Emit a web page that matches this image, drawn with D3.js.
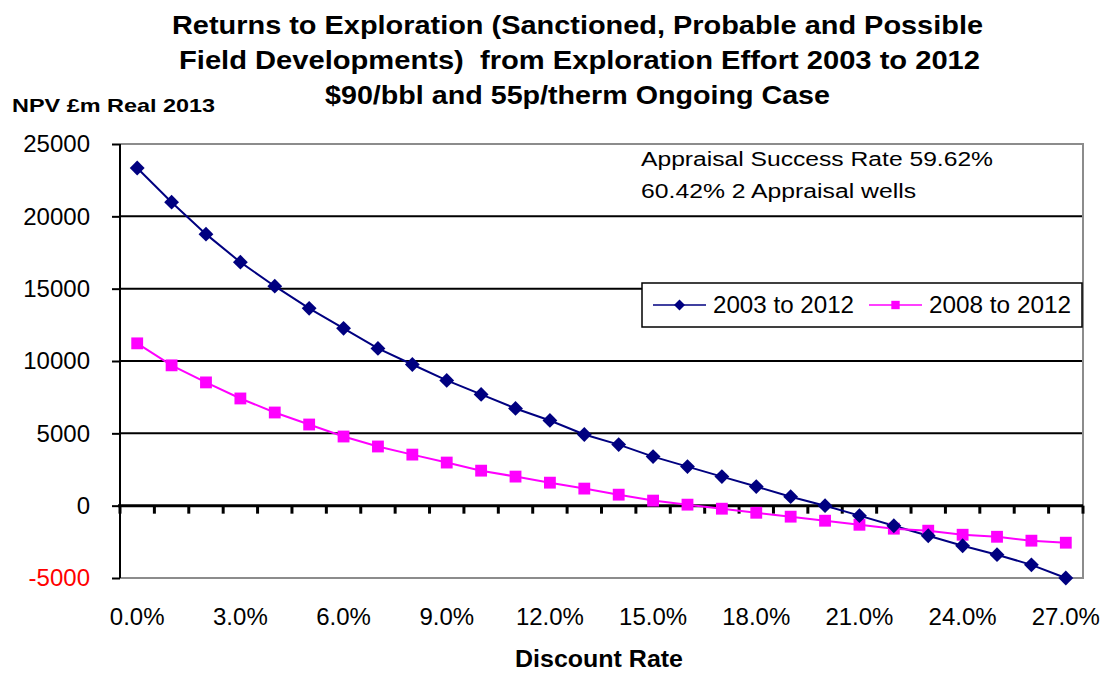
<!DOCTYPE html>
<html>
<head>
<meta charset="utf-8">
<script src="https://cdn.jsdelivr.net/npm/d3@7"></script>
<style>
  html, body { margin: 0; padding: 0; background: #fff; }
  svg { display: block; font-family: "Liberation Sans", Arial, sans-serif; }
  text { white-space: pre; }
</style>
</head>
<body>
<svg id="chart" width="1104" height="673"></svg>
<script>
// ---- data ----
const categories = ["0.0%","1.0%","2.0%","3.0%","4.0%","5.0%","6.0%","7.0%","8.0%","9.0%",
  "10.0%","11.0%","12.0%","13.0%","14.0%","15.0%","16.0%","17.0%","18.0%","19.0%",
  "20.0%","21.0%","22.0%","23.0%","24.0%","25.0%","26.0%","27.0%"];
const series2003to2012 = [23340, 20980, 18770, 16830, 15170, 13640, 12260, 10870, 9760, 8660,
  7690, 6720, 5890, 4920, 4220, 3390, 2700, 2010, 1320, 620,
  0, -690, -1390, -2080, -2770, -3390, -4090, -5000];
const series2008to2012 = [11220, 9700, 8520, 7410, 6440, 5610, 4780, 4090, 3530, 2980,
  2420, 2010, 1590, 1180, 760, 350, 70, -210, -490, -760,
  -1040, -1320, -1590, -1730, -2010, -2150, -2420, -2560];
const seriesNames = ["2003 to 2012", "2008 to 2012"];
const yTicks = [-5000, 0, 5000, 10000, 15000, 20000, 25000];
const yTickLabels = ["-5000", "0", "5000", "10000", "15000", "20000", "25000"];
const xTickLabels = ["0.0%","3.0%","6.0%","9.0%","12.0%","15.0%","18.0%","21.0%","24.0%","27.0%"];
const titleLines = [
  "Returns to Exploration (Sanctioned, Probable and Possible",
  "Field Developments)  from Exploration Effort 2003 to 2012",
  "$90/bbl and 55p/therm Ongoing Case"
];
const annotationLines = ["Appraisal Success Rate 59.62%", "60.42% 2 Appraisal wells"];
const yAxisTitle = "NPV £m Real 2013";
const xAxisTitle = "Discount Rate";

// ---- layout ----
const svg = d3.select("#chart");
const L = 120, R = 1083, T = 144, B = 578;
const x = d3.scaleBand().domain(categories).range([L, R]).padding(0);
const y = d3.scaleLinear().domain([-5000, 25000]).range([B, T]);
const cx = c => x(c) + x.bandwidth() / 2;

svg.append("rect").attr("width", 1104).attr("height", 673).attr("fill", "#fff");

// title
const titleX = [172, 179, 325], titleW = [811, 801, 505];
titleLines.forEach((t, i) => {
  svg.append("text")
    .attr("x", titleX[i]).attr("y", 34 + i * 35)
    .attr("font-size", 25).attr("font-weight", "bold").attr("fill", "#000")
    .attr("textLength", titleW[i]).attr("lengthAdjust", "spacingAndGlyphs")
    .text(t);
});

// y axis title
svg.append("text").attr("x", 12).attr("y", 112)
  .attr("font-size", 19).attr("font-weight", "bold")
  .attr("textLength", 203).attr("lengthAdjust", "spacingAndGlyphs")
  .text(yAxisTitle);

// gridlines
svg.append("g").selectAll("line")
  .data(yTicks.filter(v => v !== 0 && v !== -5000 && v !== 25000))
  .join("line")
  .attr("x1", L).attr("x2", R)
  .attr("y1", d => y(d)).attr("y2", d => y(d))
  .attr("stroke", "#000").attr("stroke-width", 2);

// plot border (grey) top, right, bottom
svg.append("path")
  .attr("d", `M${L},${y(25000)}H${R}V${y(-5000)}H${L}`)
  .attr("fill", "none").attr("stroke", "#8c8c8c").attr("stroke-width", 2);

// y axis (ticks via d3 axis, labels drawn explicitly)
const yAxis = d3.axisLeft(y).tickValues(yTicks).tickSize(8).tickFormat(() => "");
const gy = svg.append("g").attr("transform", `translate(${L},0)`).call(yAxis);
gy.select(".domain").attr("stroke", "#000").attr("stroke-width", 2).attr("d", `M0,${T}V${B}`);
gy.selectAll(".tick line").attr("stroke", "#000").attr("stroke-width", 2);

const yl = svg.append("g").selectAll("text").data(yTicks).join("text")
  .attr("x", 90).attr("y", d => y(d)).attr("dy", "0.35em")
  .attr("text-anchor", "end").attr("font-size", 24)
  .attr("fill", d => d < 0 ? "red" : "black");
yl.append("tspan")
  .attr("fill", d => d < 0 ? "red" : "black")
  .style("fill", d => d < 0 ? "red" : "black")
  .text((d, i) => yTickLabels[i]);

// zero axis with category ticks
const boundaries = categories.map(c => x(c)).concat([R]);
svg.append("line").attr("x1", L - 2).attr("x2", R).attr("y1", y(0)).attr("y2", y(0))
  .attr("stroke", "#000").attr("stroke-width", 3);
svg.append("g").selectAll("line").data(boundaries).join("line")
  .attr("x1", d => d).attr("x2", d => d)
  .attr("y1", y(0)).attr("y2", y(0) + 8)
  .attr("stroke", "#000").attr("stroke-width", 3);

// x labels
svg.append("g").selectAll("text").data(xTickLabels).join("text")
  .attr("x", d => cx(d)).attr("y", 625)
  .attr("text-anchor", "middle").attr("font-size", 24).attr("fill", "#000")
  .text(d => d);

// x axis title
svg.append("text").attr("x", 599).attr("y", 667)
  .attr("text-anchor", "middle").attr("font-size", 23).attr("font-weight", "bold")
  .attr("textLength", 168).attr("lengthAdjust", "spacingAndGlyphs")
  .text(xAxisTitle);

// lines
const line = d3.line().x((d, i) => cx(categories[i])).y(d => y(d));
const blue = "#000080", pink = "#ff00ff";
svg.append("path").datum(series2003to2012).attr("d", line)
  .attr("fill", "none").attr("stroke", blue).attr("stroke-width", 2);
svg.append("path").datum(series2008to2012).attr("d", line)
  .attr("fill", "none").attr("stroke", pink).attr("stroke-width", 2);

svg.append("g").selectAll("path").data(series2008to2012).join("path")
  .attr("transform", (d, i) => `translate(${cx(categories[i])},${y(d)})`)
  .attr("d", d3.symbol().type(d3.symbolSquare).size(140)).attr("fill", pink);
svg.append("g").selectAll("path").data(series2003to2012).join("path")
  .attr("transform", (d, i) => `translate(${cx(categories[i])},${y(d)}) rotate(45)`)
  .attr("d", d3.symbol().type(d3.symbolSquare).size(110))
  .attr("fill", blue);

// annotation
const annW = [352, 275];
annotationLines.forEach((t, i) => {
  svg.append("text").attr("x", 641).attr("y", 166 + i * 32)
    .attr("font-size", 20).attr("fill", "#000")
    .attr("textLength", annW[i]).attr("lengthAdjust", "spacingAndGlyphs")
    .text(t);
});

// legend
const lg = svg.append("g");
lg.append("rect").attr("x", 642).attr("y", 283).attr("width", 440).attr("height", 44)
  .attr("fill", "#fff").attr("stroke", "#000").attr("stroke-width", 1.5);
const legendItems = [
  { name: seriesNames[0], color: blue, x0: 653, tx: 713, tw: 141, shape: "diamond" },
  { name: seriesNames[1], color: pink, x0: 869, tx: 929, tw: 142, shape: "square" }
];
legendItems.forEach(it => {
  lg.append("line").attr("x1", it.x0).attr("x2", it.x0 + 53).attr("y1", 305).attr("y2", 305)
    .attr("stroke", it.color).attr("stroke-width", 1.5);
  lg.append("path")
    .attr("d", d3.symbol().type(d3.symbolSquare).size(it.shape === "diamond" ? 60 : 70))
    .attr("fill", it.color)
    .attr("transform", `translate(${it.x0 + 26.5},305)` + (it.shape === "diamond" ? " rotate(45)" : ""));
  lg.append("text").attr("x", it.tx).attr("y", 313)
    .attr("font-size", 23).attr("fill", "#000")
    .attr("textLength", it.tw).attr("lengthAdjust", "spacingAndGlyphs")
    .text(it.name);
});
</script>
</body>
</html>
